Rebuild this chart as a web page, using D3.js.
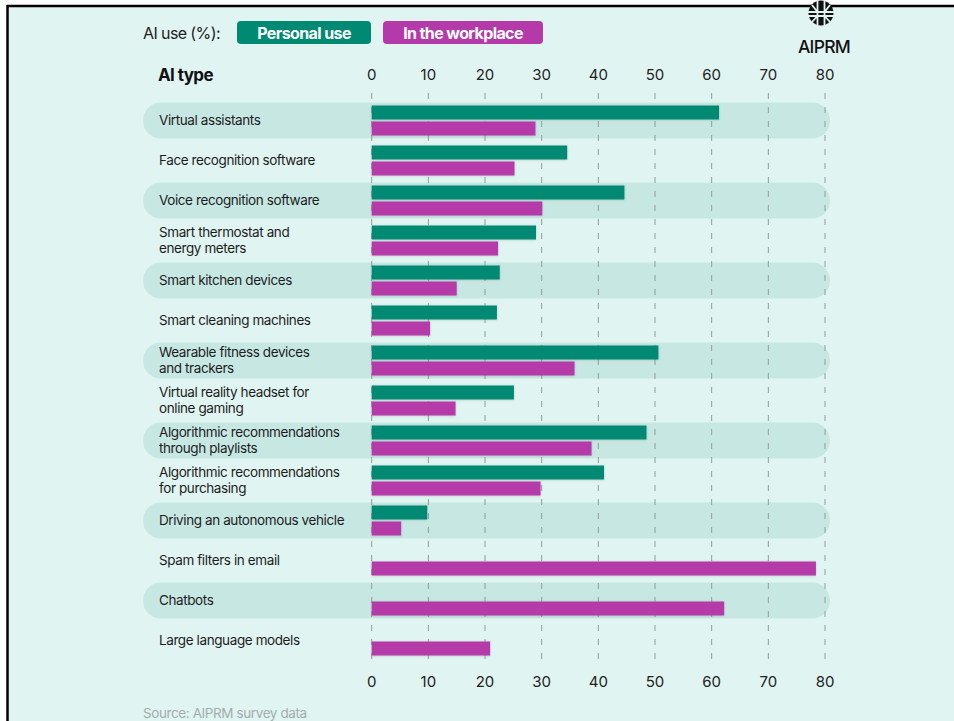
<!DOCTYPE html>
<html>
<head>
<meta charset="utf-8">
<script src="https://cdn.jsdelivr.net/npm/d3@7"></script>
<style>
  body { margin: 0; background: #ffffff; }
  svg { display: block; font-family: Inter, "Noto Sans", sans-serif; }
  .tick-label { font-size: 15px; fill: #222; }
  .cat-label { font-size: 13.5px; fill: #1d1d1d; letter-spacing: -0.4px; }
</style>
</head>
<body>
<svg id="chart"></svg>
<script>
const categories = [
  'Virtual assistants',
  'Face recognition software',
  'Voice recognition software',
  'Smart thermostat and energy meters',
  'Smart kitchen devices',
  'Smart cleaning machines',
  'Wearable fitness devices and trackers',
  'Virtual reality headset for online gaming',
  'Algorithmic recommendations through playlists',
  'Algorithmic recommendations for purchasing',
  'Driving an autonomous vehicle',
  'Spam filters in email',
  'Chatbots',
  'Large language models'
];
const categoryLines = [
  ['Virtual assistants'],
  ['Face recognition software'],
  ['Voice recognition software'],
  ['Smart thermostat and', 'energy meters'],
  ['Smart kitchen devices'],
  ['Smart cleaning machines'],
  ['Wearable fitness devices', 'and trackers'],
  ['Virtual reality headset for', 'online gaming'],
  ['Algorithmic recommendations', 'through playlists'],
  ['Algorithmic recommendations', 'for purchasing'],
  ['Driving an autonomous vehicle'],
  ['Spam filters in email'],
  ['Chatbots'],
  ['Large language models']
];
// AI use (%), null = no bar
const personalUse = [61.3, 34.5, 44.6, 29, 22.6, 22.1, 50.6, 25.1, 48.5, 41, 9.8, null, null, null];
const workplaceUse = [28.9, 25.2, 30.1, 22.3, 15, 10.3, 35.8, 14.8, 38.8, 29.8, 5.2, 78.4, 62.2, 20.9];
const xTicks = [0, 10, 20, 30, 40, 50, 60, 70, 80];
const seriesNames = ['Personal use', 'In the workplace'];

const colors = { personal: '#008a73', work: '#b53aa9', bg: '#e0f4f1', band: '#c7e7e3' };

const width = 954, height = 721;
const svg = d3.select('#chart').attr('width', width).attr('height', height);

// background + frame
svg.append('rect').attr('x', 7).attr('y', 5).attr('width', width - 7).attr('height', height - 5)
  .attr('fill', colors.bg);
svg.append('line').attr('x1', 7).attr('x2', width).attr('y1', 6).attr('y2', 6)
  .attr('stroke', '#000').attr('stroke-width', 2.5);
svg.append('line').attr('x1', 7.5).attr('x2', 7.5).attr('y1', 5).attr('y2', height)
  .attr('stroke', '#000').attr('stroke-width', 2.5);

const x = d3.scaleLinear().domain([0, 80]).range([371.7, 825]);
const y = d3.scaleBand().domain(categories).range([100.5, 660.5]);
const barH = 14;

const defs = svg.append('defs');
const shadow = defs.append('filter').attr('id', 'shadow')
  .attr('x', '-5%').attr('y', '-30%').attr('width', '110%').attr('height', '160%');
shadow.append('feDropShadow').attr('dx', 0).attr('dy', 0.5).attr('stdDeviation', 1)
  .attr('flood-color', '#000').attr('flood-opacity', 0.18);

// alternating bands
svg.append('g').selectAll('rect')
  .data(categories.filter((d, i) => i % 2 === 0))
  .join('rect')
  .attr('x', 143)
  .attr('y', d => y(d) + y.bandwidth() / 2 - 18)
  .attr('width', 830 - 143)
  .attr('height', 36)
  .attr('rx', 18)
  .attr('fill', colors.band);

// dashed grid
svg.append('g').selectAll('line')
  .data(xTicks)
  .join('line')
  .attr('x1', d => x(d)).attr('x2', d => x(d))
  .attr('y1', 93).attr('y2', 660)
  .attr('stroke', '#8f9d9b')
  .attr('stroke-width', 1)
  .attr('stroke-dasharray', '6,8');

// tick labels top and bottom
[75, 682].forEach(ty => {
  svg.append('g').selectAll('text')
    .data(xTicks)
    .join('text')
    .attr('class', 'tick-label')
    .attr('x', d => x(d))
    .attr('y', ty)
    .attr('dy', '0.35em')
    .attr('text-anchor', 'middle')
    .text(d => d);
});

// bars
const barsG = svg.append('g').attr('filter', 'url(#shadow)');
barsG.selectAll('.bar-personal')
  .data(categories.map((c, i) => ({ c, v: personalUse[i] })).filter(d => d.v !== null))
  .join('rect')
  .attr('class', 'bar-personal')
  .attr('x', x(0))
  .attr('y', d => y(d.c) + y.bandwidth() / 2 - 1 - barH)
  .attr('width', d => x(d.v) - x(0))
  .attr('height', barH)
  .attr('fill', colors.personal);
barsG.selectAll('.bar-work')
  .data(categories.map((c, i) => ({ c, v: workplaceUse[i] })).filter(d => d.v !== null))
  .join('rect')
  .attr('class', 'bar-work')
  .attr('x', x(0))
  .attr('y', d => y(d.c) + y.bandwidth() / 2 + 1)
  .attr('width', d => x(d.v) - x(0))
  .attr('height', barH)
  .attr('fill', colors.work);

// category labels
const labels = svg.append('g').selectAll('text')
  .data(categories)
  .join('text')
  .attr('class', 'cat-label')
  .attr('x', 159)
  .attr('y', d => y(d) + y.bandwidth() / 2);
labels.each(function (d, i) {
  const lines = categoryLines[i];
  const t = d3.select(this);
  lines.forEach((l, j) => {
    t.append('tspan')
      .attr('x', 159)
      .attr('y', y(d) + y.bandwidth() / 2 - 0.5 + (j - (lines.length - 1) / 2) * 16)
      .attr('dy', '0.35em')
      .text(l);
  });
});

// header
svg.append('text').attr('x', 158).attr('y', 75).attr('dy', '0.35em')
  .attr('font-size', 17).attr('font-weight', 700).attr('fill', '#111')
  .attr('letter-spacing', -0.6)
  .text('AI type');

svg.append('text').attr('x', 143).attr('y', 33).attr('dy', '0.35em')
  .attr('font-size', 16).attr('fill', '#222').attr('letter-spacing', -0.6)
  .text('AI use (%):');

const legend = [
  { name: seriesNames[0], x: 237, w: 134, c: colors.personal },
  { name: seriesNames[1], x: 383, w: 160, c: colors.work }
];
const lg = svg.append('g').selectAll('g').data(legend).join('g');
lg.append('rect')
  .attr('x', d => d.x).attr('y', 21).attr('width', d => d.w).attr('height', 23)
  .attr('rx', 4).attr('fill', d => d.c);
lg.append('text')
  .attr('x', d => d.x + d.w / 2).attr('y', 33).attr('dy', '0.35em')
  .attr('text-anchor', 'middle')
  .attr('font-size', 16).attr('font-weight', 700).attr('fill', '#fff')
  .attr('letter-spacing', -0.6)
  .text(d => d.name);

// logo
const logo = svg.append('g').attr('transform', 'translate(821,13)');
logo.append('circle').attr('r', 12.5).attr('fill', '#111');
logo.append('path')
  .attr('d', 'M-13,-1H13M-13,3H13M-3.5,-13V13M3.5,-13V13M-9,-8L-3.5,-1M9,-8L3.5,-1M-9,9L-3.5,3M9,9L3.5,3')
  .attr('stroke', colors.bg).attr('stroke-width', 1.8).attr('fill', 'none');
svg.append('text').attr('x', 824).attr('y', 47).attr('dy', '0.35em')
  .attr('text-anchor', 'middle')
  .attr('font-size', 17.5).attr('font-weight', 500).attr('fill', '#111').attr('letter-spacing', -0.7)
  .text('AIPRM');

// source
svg.append('text').attr('x', 143).attr('y', 713).attr('dy', '0.35em')
  .attr('font-size', 13.5).attr('fill', '#a3aeac').attr('letter-spacing', -0.4)
  .text('Source: AIPRM survey data');
</script>
</body>
</html>
